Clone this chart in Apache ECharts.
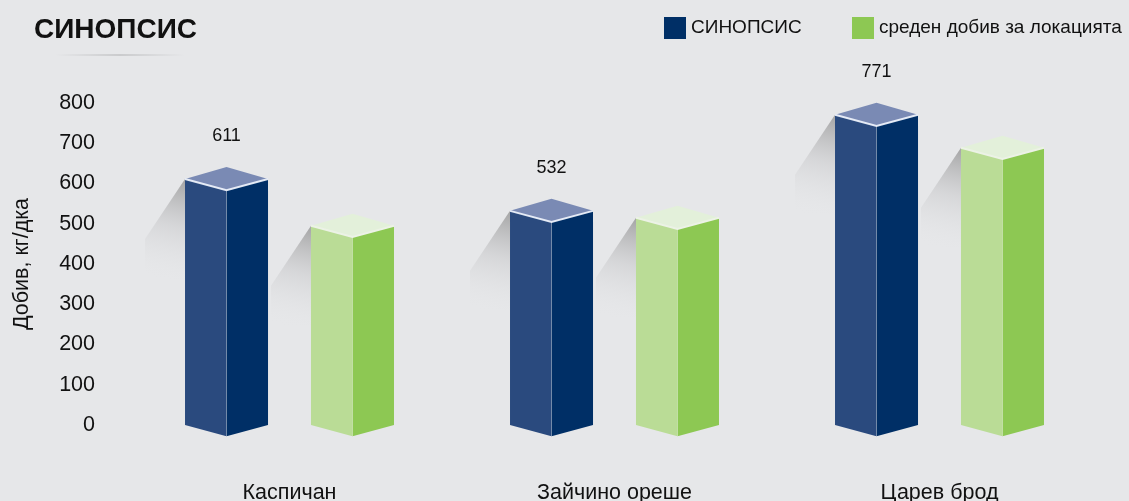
<!DOCTYPE html>
<html>
<head>
<meta charset="utf-8">
<script src="https://cdn.jsdelivr.net/npm/echarts@6/dist/echarts.min.js"></script>
<style>
html,body{margin:0;padding:0;background:#e6e7e9;}
#chart{width:1129px;height:501px;}
</style>
</head>
<body>
<div id="chart"></div>
<script>
var categories = ['Каспичан', 'Зайчино ореше', 'Царев брод'];
var sinopsisValues = [611, 532, 771];
var averageValues = [495, 515, 689];
var seriesNames = ['СИНОПСИС', 'среден добив за локацията'];
var yTicks = [0, 100, 200, 300, 400, 500, 600, 700, 800];

var FONT = '"Liberation Sans", Arial, sans-serif';
var palettes = [
  {left: '#2a4a7e', right: '#002f66', top: '#7a8ab4', edge: 'rgba(235,240,250,0.95)', legend: '#002f66'},
  {left: '#badc96', right: '#8dc853', top: '#e3f0da', edge: 'rgba(236,242,230,1)', legend: '#8dc853'}
];

function makeRender(sIdx, showLabel) {
  var pal = palettes[sIdx];
  return function (params, api) {
    var ci = api.value(0), v = api.value(1);
    var band = api.size([1, 0])[0];
    var top = api.coord([ci, v]);
    var base = api.coord([ci, 0]);
    var off = (sIdx === 0 ? -1 : 1) * band * 0.1938;
    var hw = band * 0.1277;
    var cx = top[0] + off;
    var yT = top[1], y0 = base[1];
    var fr = hw * 0.27, bk = hw * 0.29;
    var xl = cx - hw, xr = cx + hw;
    var children = [];
    children.push({
      type: 'polygon',
      shape: {points: [[xl, yT], [xl - 40, yT + 60], [xl - 40, yT + 100], [xl, yT + 100]]},
      style: {fill: new echarts.graphic.LinearGradient(0.8, 0, 0.2, 1, [
        {offset: 0, color: 'rgba(150,150,150,0.8)'},
        {offset: 0.45, color: 'rgba(190,190,192,0.4)'},
        {offset: 1, color: 'rgba(230,231,233,0)'}
      ])},
      silent: true
    });
    children.push({
      type: 'polygon',
      shape: {points: [[xl, yT], [cx, yT + fr], [cx, y0 + fr], [xl, y0]]},
      style: {fill: pal.left}
    });
    children.push({
      type: 'polygon',
      shape: {points: [[cx, yT + fr], [xr, yT], [xr, y0], [cx, y0 + fr]]},
      style: {fill: pal.right}
    });
    children.push({
      type: 'line',
      shape: {x1: cx, y1: yT + fr, x2: cx, y2: y0 + fr},
      style: {stroke: 'rgba(255,255,255,0.25)', lineWidth: 1}
    });
    children.push({
      type: 'polygon',
      shape: {points: [[xl, yT], [cx, yT - bk], [xr, yT], [cx, yT + fr]]},
      style: {fill: pal.top}
    });
    children.push({
      type: 'polyline',
      shape: {points: [[xl, yT], [cx, yT + fr], [xr, yT]]},
      style: {stroke: pal.edge, lineWidth: 2, fill: null}
    });
    if (showLabel) {
      children.push({
        type: 'text',
        style: {text: String(v), x: cx, y: yT - 43, align: 'center', verticalAlign: 'middle',
          fill: '#111', font: '18px ' + FONT}
      });
    }
    return {type: 'group', children: children};
  };
}

var legendBase = {
  top: 17, padding: 0, itemWidth: 22, itemHeight: 22, icon: 'rect', orient: 'horizontal',
  textStyle: {fontFamily: FONT, fontSize: 19, color: '#111'}
};

var chart = echarts.init(document.getElementById('chart'));
chart.setOption({
  backgroundColor: '#e6e7e9',
  animation: false,
  title: {
    text: 'СИНОПСИС', left: 34, top: 16, padding: 0,
    textStyle: {fontFamily: FONT, fontSize: 28, fontWeight: 'bold', color: '#111'}
  },
  legend: [
    Object.assign({}, legendBase, {left: 664, data: [seriesNames[0]]}),
    Object.assign({}, legendBase, {left: 852, data: [seriesNames[1]]})
  ],
  graphic: [{
    type: 'rect', left: 55, top: 54, shape: {width: 130, height: 2},
    style: {fill: new echarts.graphic.LinearGradient(0, 0, 1, 0, [
      {offset: 0, color: 'rgba(0,0,0,0)'},
      {offset: 0.5, color: 'rgba(0,0,0,0.12)'},
      {offset: 1, color: 'rgba(0,0,0,0)'}
    ])},
    silent: true
  }],
  grid: {left: 127, right: 27, top: 103, bottom: 76, containLabel: false, outerBoundsMode: 'none'},
  xAxis: {
    type: 'category', data: categories,
    axisLine: {show: false}, axisTick: {show: false},
    axisLabel: {margin: 57, fontFamily: FONT, fontSize: 21.5, color: '#111'}
  },
  yAxis: {
    type: 'value', min: yTicks[0], max: yTicks[yTicks.length - 1], interval: 100,
    name: 'Добив, кг/дка', nameLocation: 'middle', nameGap: 94, nameRotate: 90,
    nameTextStyle: {fontFamily: FONT, fontSize: 21.5, color: '#111'},
    axisLine: {show: false}, axisTick: {show: false}, splitLine: {show: false},
    axisLabel: {margin: 32, padding: [3, 0, 0, 0], fontFamily: FONT, fontSize: 21.5, color: '#111'}
  },
  series: [
    {
      name: seriesNames[0], type: 'custom', renderItem: makeRender(0, true),
      itemStyle: {color: palettes[0].legend},
      data: categories.map(function (c, i) { return [i, sinopsisValues[i]]; }),
      z: 2
    },
    {
      name: seriesNames[1], type: 'custom', renderItem: makeRender(1, false),
      itemStyle: {color: palettes[1].legend},
      data: categories.map(function (c, i) { return [i, averageValues[i]]; }),
      z: 2
    }
  ]
});
</script>
</body>
</html>
